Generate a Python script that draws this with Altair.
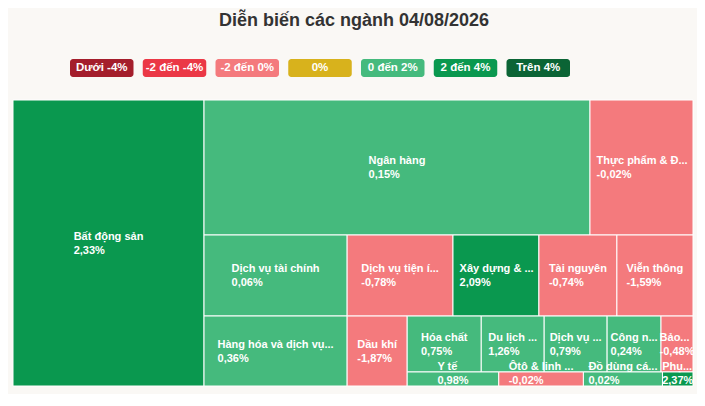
import unicodedata
import altair as alt
import pandas as pd

# ---------------- data ----------------
title_text = "Diễn biến các ngành 04/08/2026"

sectors = ["Bất động sản", "Ngân hàng", "Thực phẩm & Đ...", "Dịch vụ tài chính",
           "Hàng hóa và dịch vụ...", "Dịch vụ tiện í...", "Xây dựng & ...", "Tài nguyên",
           "Viễn thông", "Dầu khí", "Hóa chất", "Du lịch ...", "Dịch vụ ...", "Công n...",
           "Bảo...", "Y tế", "Ôtô & linh ...", "Đồ dùng cá...", "Phụ..."]
weights = [28.09, 26.79, 7.15, 5.96, 5.15, 4.41, 3.58, 3.25, 3.17, 2.16, 2.13,
           1.81, 1.81, 1.55, 0.92, 0.66, 0.61, 0.57, 0.22]
changes = [2.33, 0.15, -0.02, 0.06, 0.36, -0.78, 2.09, -0.74, -1.59, -1.87, 0.75,
           1.26, 0.79, 0.24, -0.48, 0.98, -0.02, 0.02, 2.37]

legend_labels = ["Dưới -4%", "-2 đến -4%", "-2 đến 0%", "0%", "0 đến 2%", "2 đến 4%", "Trên 4%"]
legend_colors = ["#A41E2C", "#EB3846", "#F47A7D", "#D8B21C", "#45BA7D", "#0A984F", "#0B6435"]

FONT = "Liberation Sans, Arial, sans-serif"
W, H = 680, 286

# --------------- helpers ---------------
_AW = {" ": 278, "!": 333, "%": 889, "&": 722, "(": 333, ")": 333, ",": 278, "-": 333,
       ".": 278, "/": 278, "A": 722, "B": 722, "C": 722, "D": 722, "E": 667, "F": 611,
       "G": 778, "H": 722, "I": 278, "J": 556, "K": 722, "L": 611, "M": 833, "N": 722,
       "O": 778, "P": 667, "Q": 778, "R": 722, "S": 667, "T": 611, "U": 722, "V": 667,
       "W": 944, "X": 667, "Y": 667, "Z": 611, "a": 556, "b": 611, "c": 556, "d": 611,
       "e": 556, "f": 333, "g": 611, "h": 611, "i": 278, "j": 278, "k": 556, "l": 278,
       "m": 889, "n": 611, "o": 611, "p": 611, "q": 611, "r": 389, "s": 556, "t": 333,
       "u": 611, "v": 556, "w": 778, "x": 556, "y": 556, "z": 500}


def text_width(s, size):
    tot = 0
    for ch in s:
        if ch in "đ":
            base = "d"
        elif ch in "Đ":
            base = "D"
        else:
            base = unicodedata.normalize("NFD", ch)[0]
        tot += 556 if base.isdigit() else _AW.get(base, 556)
    return tot * size / 1000.0


def aspect(a, b):
    try:
        return max(a / b, b / a)
    except (ZeroDivisionError, TypeError):
        return float("nan")


def squarify_hc(vals, x0, y0, w, h):
    """Low-aspect-ratio (squarified) layout with alternating direction."""
    total_v = sum(vals)
    areas = [w * h * v / total_v for v in vals]
    out = []
    g = dict(width=w, height=h, direction=0, total=0.0, nW=0.0, lW=0.0, nH=0.0, lH=0.0,
             el=[], lR=float("nan"), nR=float("nan"))
    plot = dict(x=x0, y=y0)

    def add(el):
        last = g["el"][-1] if g["el"] else None
        g["total"] += el
        if g["direction"] == 0:
            g["lW"] = g["nW"]
            g["nW"] = g["total"] / g["height"]
            if last is None or g["lW"] == 0:
                g["lR"] = g["nR"] = float("nan")
            else:
                g["lR"] = aspect(g["lW"], last / g["lW"])
                g["nR"] = aspect(g["nW"], last / g["nW"])
        else:
            g["lH"] = g["nH"]
            g["nH"] = g["total"] / g["width"]
            if last is None or g["lH"] == 0:
                g["lR"] = g["nR"] = float("nan")
            else:
                g["lR"] = aspect(last / g["lH"], g["lH"])
                g["nR"] = aspect(last / g["nH"], g["nH"])
        g["el"].append(el)

    def calc(is_last):
        gW, gH = g["lW"], g["lH"]
        p_tot = None
        if is_last:
            gW, gH = g["nW"], g["nH"]
        else:
            p_tot = g["el"][-1]
        end = len(g["el"]) - 1
        for i, p in enumerate(g["el"]):
            if is_last or i < end:
                if g["direction"] == 0:
                    pw, ph = gW, p / gW
                    out.append((plot["x"], plot["y"], pw, ph))
                    plot["y"] += ph
                else:
                    ph, pw = gH, p / gH
                    out.append((plot["x"], plot["y"], pw, ph))
                    plot["x"] += pw
        g["nW"] = g["lW"] = 0.0
        g["el"] = []
        g["total"] = 0.0
        if g["direction"] == 0:
            g["width"] -= gW
        else:
            g["height"] -= gH
        plot["y"] = y0 + (h - g["height"])
        plot["x"] = x0 + (w - g["width"])
        g["direction"] = 1 - g["direction"]
        if not is_last:
            add(p_tot)

    for i, a in enumerate(areas):
        add(a)
        if g["nR"] > g["lR"]:
            calc(False)
        if i == len(areas) - 1:
            calc(True)
    return out


def bucket(c):
    if c < -4:
        return legend_labels[0]
    if c < -2:
        return legend_labels[1]
    if c < 0:
        return legend_labels[2]
    if c == 0:
        return legend_labels[3]
    if c <= 2:
        return legend_labels[4]
    if c <= 4:
        return legend_labels[5]
    return legend_labels[6]


# --------------- build tables ---------------
order = sorted(range(len(weights)), key=lambda i: -weights[i])
rects = squarify_hc([weights[i] for i in order], 0.0, 0.0, W, H)

rows = []
for idx, (rx, ry, rw, rh) in zip(order, rects):
    val_txt = ("%.2f%%" % changes[idx]).replace(".", ",")
    block = max(text_width(sectors[idx], 11), text_width(val_txt, 11))
    cx, cy = rx + rw / 2, ry + rh / 2
    vy = min(cy + 7.5, H - 5)
    rows.append(dict(name=sectors[idx], val=val_txt, cat=bucket(changes[idx]),
                     x=rx, x2=rx + rw, y=ry, y2=ry + rh,
                     tx=cx - block / 2, ny=vy - 14, vy=vy))
tiles = pd.DataFrame(rows)

lx0, lstep, lbw = 57.0, 72.75, 63.5
legend_df = pd.DataFrame(dict(
    cat=legend_labels,
    x=[lx0 + i * lstep for i in range(len(legend_labels))],
    x2=[lx0 + i * lstep + lbw for i in range(len(legend_labels))],
    y=[-41.0] * len(legend_labels),
    y2=[-23.0] * len(legend_labels),
    tx=[lx0 + i * lstep + lbw / 2 for i in range(len(legend_labels))],
    ty=[-32.0] * len(legend_labels),
))
title_df = pd.DataFrame(dict(t=[title_text], x=[W / 2 + 1], y=[-74.0]))

# --------------- chart ---------------
xs = alt.Scale(domain=[0, W], nice=False, zero=False)
ys = alt.Scale(domain=[0, H], nice=False, zero=False, reverse=True)
cs = alt.Scale(domain=legend_labels, range=legend_colors)

tile_rect = alt.Chart(tiles).mark_rect(stroke="white", strokeWidth=1).encode(
    x=alt.X("x:Q", scale=xs, axis=None), x2="x2:Q",
    y=alt.Y("y:Q", scale=ys, axis=None), y2="y2:Q",
    color=alt.Color("cat:N", scale=cs, legend=None),
)
name_txt = alt.Chart(tiles).mark_text(
    align="left", baseline="middle", font=FONT, fontSize=11, fontWeight="bold", color="white"
).encode(x=alt.X("tx:Q", scale=xs, axis=None), y=alt.Y("ny:Q", scale=ys, axis=None), text="name:N")
val_txt = alt.Chart(tiles).mark_text(
    align="left", baseline="middle", font=FONT, fontSize=11, fontWeight="bold", color="white"
).encode(x=alt.X("tx:Q", scale=xs, axis=None), y=alt.Y("vy:Q", scale=ys, axis=None), text="val:N")

leg_rect = alt.Chart(legend_df).mark_rect(cornerRadius=3).encode(
    x=alt.X("x:Q", scale=xs, axis=None), x2="x2:Q",
    y=alt.Y("y:Q", scale=ys, axis=None), y2="y2:Q",
    color=alt.Color("cat:N", scale=cs, legend=None),
)
leg_txt = alt.Chart(legend_df).mark_text(
    align="center", baseline="middle", font=FONT, fontSize=11.5, fontWeight="bold", color="white"
).encode(x=alt.X("tx:Q", scale=xs, axis=None), y=alt.Y("ty:Q", scale=ys, axis=None), text="cat:N")

title_mark = alt.Chart(title_df).mark_text(
    align="center", baseline="alphabetic", font=FONT, fontSize=18, fontWeight="bold", color="#333333"
).encode(x=alt.X("x:Q", scale=xs, axis=None), y=alt.Y("y:Q", scale=ys, axis=None), text="t:N")

chart = alt.layer(tile_rect, name_txt, val_txt, leg_rect, leg_txt, title_mark).properties(
    width=W, height=H,
    autosize=alt.AutoSizeParams(type="none"),
    padding={"left": 5, "top": 92, "right": 4, "bottom": 8},
    background="#FAF8F5",
).configure_view(stroke=None)

chart.save("out.html", embed_options={"renderer": "svg", "actions": False})
